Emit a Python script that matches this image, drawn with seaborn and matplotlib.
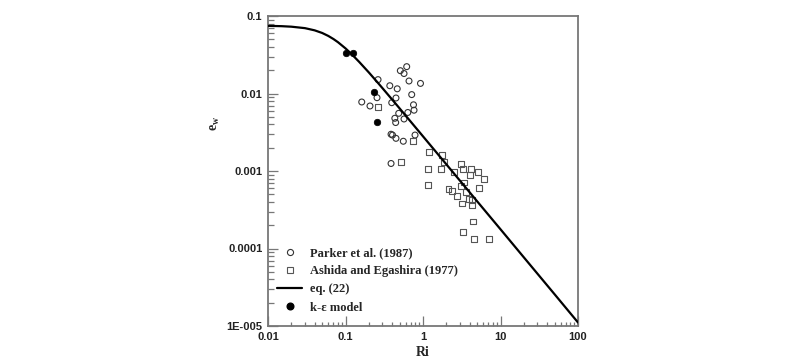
import matplotlib
matplotlib.use("Agg")
import matplotlib.pyplot as plt
from matplotlib.lines import Line2D
import seaborn as sns
import pandas as pd

# Parker et al. (1987) - open circles
parker_ri = [0.263, 0.616, 0.510, 0.569, 0.373, 0.465, 0.660, 0.928, 0.715, 0.255,
             0.162, 0.207, 0.395, 0.448, 0.754, 0.766, 0.637, 0.486, 0.433, 0.569,
             0.444, 0.789, 0.387, 0.404, 0.448, 0.557, 0.387]
parker_ew = [0.0151, 0.0222, 0.0197, 0.0181, 0.0126, 0.0115, 0.0145, 0.0135, 0.00968, 0.00883,
             0.00777, 0.00690, 0.00761, 0.00875, 0.00715, 0.00609, 0.00569, 0.00555, 0.00479, 0.00469,
             0.00422, 0.00291, 0.00298, 0.00291, 0.00264, 0.00242, 0.00125]

# Ashida and Egashira (1977) - open squares
ashida_ri = [0.260, 0.750, 0.516, 1.195, 1.743, 1.866, 1.160, 1.692, 2.534, 3.093,
             3.253, 4.126, 4.041, 5.079, 6.087, 1.150, 3.381, 3.093, 5.232, 2.133,
             2.388, 3.556, 2.763, 3.888, 4.313, 3.186, 4.263, 4.391, 3.263, 4.551, 7.043]
ashida_ew = [0.00676, 0.00242, 0.00132, 0.00177, 0.00161, 0.00130, 0.00107, 0.00107, 0.000962, 0.00124,
             0.00107, 0.00107, 0.000896, 0.000980, 0.000788, 0.000660, 0.000711, 0.000641, 0.000607, 0.000586,
             0.000555, 0.000531, 0.000473, 0.000439, 0.000422, 0.000381, 0.000361, 0.000223, 0.000162, 0.000131, 0.000131]

# eq. (22) curve
eq_ri = [0.01, 0.015, 0.02, 0.03, 0.04, 0.05, 0.06, 0.07, 0.08, 0.1, 0.12, 0.15, 0.2, 0.25,
         0.3, 0.4, 0.5, 0.7, 1, 2, 5, 10, 20, 50, 100]
eq_ew = [0.0746, 0.0739, 0.0728, 0.0697, 0.0653, 0.0604, 0.0553, 0.0504, 0.0459, 0.0382,
         0.0322, 0.0256, 0.0187, 0.01449, 0.01172, 0.00835, 0.00641, 0.00429, 0.00280,
         0.00122, 0.000406, 0.000177, 0.0000769, 0.0000256, 0.0000111]

# k-epsilon model - filled circles
ke_ri = [0.102, 0.125, 0.235, 0.255]
ke_ew = [0.0331, 0.0331, 0.01055, 0.00433]

x_ticks = [0.01, 0.1, 1, 10, 100]
x_ticklabels = ["0.01", "0.1", "1", "10", "100"]
y_ticks = [0.00001, 0.0001, 0.001, 0.01, 0.1]
y_ticklabels = ["1E-005", "0.0001", "0.001", "0.01", "0.1"]

sns.set_style("white")
plt.rcParams["font.family"] = ["Liberation Sans", "DejaVu Sans"]
plt.rcParams["mathtext.fontset"] = "custom"
plt.rcParams["mathtext.rm"] = "Liberation Serif:bold"
plt.rcParams["mathtext.bf"] = "Liberation Serif:bold"
plt.rcParams["mathtext.it"] = "Liberation Serif:bold"

fig = plt.figure(figsize=(8, 3.64), dpi=100)
ax = fig.add_axes([268 / 800, 1 - 326 / 364, 310 / 800, 310 / 364])

df_p = pd.DataFrame({"Ri": parker_ri, "ew": parker_ew})
df_a = pd.DataFrame({"Ri": ashida_ri, "ew": ashida_ew})
df_e = pd.DataFrame({"Ri": eq_ri, "ew": eq_ew})
df_k = pd.DataFrame({"Ri": ke_ri, "ew": ke_ew})

sns.scatterplot(data=df_p, x="Ri", y="ew", ax=ax, marker="o", s=18,
                facecolor="none", edgecolor="#333333", linewidth=0.8, zorder=2)
sns.scatterplot(data=df_a, x="Ri", y="ew", ax=ax, marker="s", s=18,
                facecolor="none", edgecolor="#555555", linewidth=0.8, zorder=2)
sns.lineplot(data=df_e, x="Ri", y="ew", ax=ax, color="black", linewidth=1.6,
             sort=False, estimator=None, zorder=3)
sns.scatterplot(data=df_k, x="Ri", y="ew", ax=ax, marker="o", s=22,
                color="black", edgecolor="black", linewidth=0.5, zorder=4)

ax.set_xscale("log")
ax.set_yscale("log")
ax.set_xlim(0.01, 100)
ax.set_ylim(0.00001, 0.1)
ax.set_xticks(x_ticks)
ax.set_xticklabels(x_ticklabels)
ax.set_yticks(y_ticks)
ax.set_yticklabels(y_ticklabels)

for lab in ax.get_xticklabels() + ax.get_yticklabels():
    lab.set_fontweight("bold")
    lab.set_fontsize(8)
    lab.set_color("#222222")

spine_color = "#777777"
for s in ax.spines.values():
    s.set_color(spine_color)
    s.set_linewidth(1.3)
    s.set_visible(True)

ax.tick_params(axis="both", which="both", direction="in", colors=spine_color,
               labelcolor="#222222", bottom=True, left=True, top=False, right=False,
               width=0.9)
ax.tick_params(axis="y", which="major", length=7, pad=4)
ax.tick_params(axis="y", which="minor", length=4.5)
ax.tick_params(axis="x", which="major", length=7, pad=4)
ax.tick_params(axis="x", which="minor", length=3)

ax.set_xlabel("Ri", fontfamily="Liberation Serif", fontweight="bold", fontsize=10)
ax.xaxis.set_label_coords(0.5, -0.065)
ax.set_ylabel(r"$\mathbf{e_w}$", fontsize=10, rotation=90)
ax.yaxis.set_label_coords(-0.15, 0.655)

handles = [
    Line2D([], [], linestyle="none", marker="o", markersize=4.4, markerfacecolor="none",
           markeredgecolor="#333333", markeredgewidth=0.8),
    Line2D([], [], linestyle="none", marker="s", markersize=4.4, markerfacecolor="none",
           markeredgecolor="#555555", markeredgewidth=0.8),
    Line2D([], [], color="black", linewidth=1.6),
    Line2D([], [], linestyle="none", marker="o", markersize=4.8, markerfacecolor="black",
           markeredgecolor="black"),
]
labels = ["Parker et al. (1987)", "Ashida and Egashira (1977)", "eq. (22)", "k-\u03b5 model"]
ax.legend(handles, labels, loc="upper left", bbox_to_anchor=(0.03, 0.255),
          frameon=False, borderpad=0, borderaxespad=0, handlelength=2.0,
          handletextpad=0.6, labelspacing=0.5,
          prop={"family": "Liberation Serif", "weight": "bold", "size": 9})

fig.savefig("out.png", dpi=100)
